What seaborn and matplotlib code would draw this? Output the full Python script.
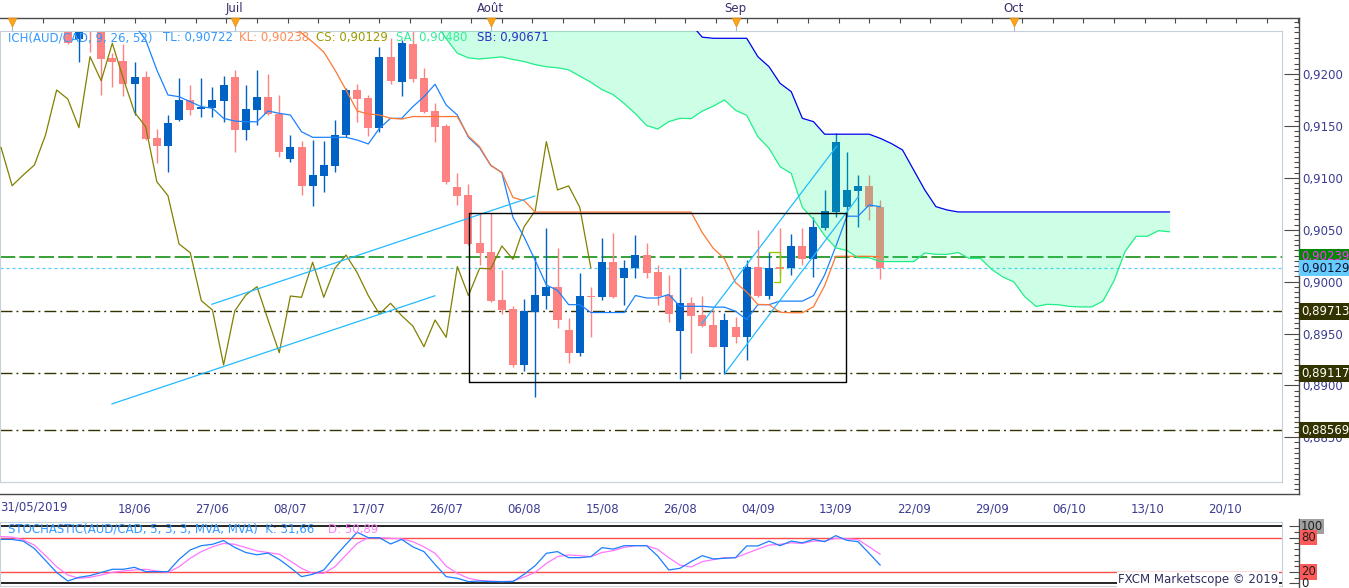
import numpy as np
import matplotlib
matplotlib.use("Agg")
import matplotlib.pyplot as plt
import seaborn as sns

# ------------------------------------------------------------
# Values (Marketscope 2019)
# bar 0 = 31/05/2019, one bar per trading day
# ------------------------------------------------------------

first_bar = 6   # bars 0-5 lie above the visible price range

opens = [
    0.92620, 0.92337, 0.92520, 0.92450, 0.92151, 0.92125, 0.91904, 0.91974, 0.91386, 0.91309,
    0.91557, 0.91750, 0.91660, 0.91675, 0.91740, 0.91974, 0.91460, 0.91653, 0.91781, 0.91612,
    0.91181, 0.91294, 0.90924, 0.91020, 0.91117, 0.91412, 0.91846, 0.91766, 0.91483, 0.92167,
    0.91920, 0.92289, 0.91965, 0.91644, 0.91502, 0.90908, 0.90834, 0.90369, 0.90288, 0.89823,
    0.89736, 0.89197, 0.89710, 0.89861, 0.89951, 0.89534, 0.89315, 0.89861, 0.89849, 0.90186,
    0.90038, 0.90128, 0.90256, 0.90090, 0.89871, 0.89527, 0.89791, 0.89678, 0.89582, 0.89373,
    0.89560, 0.89463, 0.90144, 0.89865, 0.90139, 0.90128, 0.90343, 0.90215, 0.90513, 0.90673,
    0.90716, 0.90876, 0.90922, 0.90716,
]
highs = [
    0.92680, 0.92500, 0.92550, 0.92480, 0.92199, 0.92286, 0.92118, 0.92029, 0.91470, 0.91605,
    0.91958, 0.91894, 0.91965, 0.91878, 0.91981, 0.92039, 0.91894, 0.92039, 0.91997, 0.91798,
    0.91412, 0.91355, 0.91364, 0.91355, 0.91557, 0.91868, 0.91901, 0.91800, 0.92263, 0.92344,
    0.92330, 0.92450, 0.92055, 0.91718, 0.91515, 0.91043, 0.90940, 0.90658, 0.90664, 0.90112,
    0.89768, 0.89832, 0.90240, 0.90513, 0.90321, 0.89646, 0.90080, 0.89951, 0.90417, 0.90465,
    0.90208, 0.90449, 0.90369, 0.90160, 0.90064, 0.90128, 0.89855, 0.89861, 0.89733, 0.89701,
    0.89662, 0.90208, 0.90497, 0.90288, 0.90513, 0.90459, 0.90513, 0.90619, 0.90883, 0.91429,
    0.91252, 0.91027, 0.91027, 0.90786,
]
lows = [
    0.92290, 0.92118, 0.92215, 0.91798, 0.91878, 0.91791, 0.91605, 0.91364, 0.91140, 0.91059,
    0.91550, 0.91605, 0.91589, 0.91589, 0.91540, 0.91251, 0.91364, 0.91509, 0.91605, 0.91203,
    0.91149, 0.90834, 0.90731, 0.90866, 0.91053, 0.91396, 0.91540, 0.91406, 0.91438, 0.91901,
    0.91785, 0.91920, 0.91621, 0.91342, 0.90937, 0.90738, 0.90355, 0.90160, 0.89807, 0.89688,
    0.89180, 0.89142, 0.88891, 0.89736, 0.89550, 0.89219, 0.89286, 0.89469, 0.89823, 0.89845,
    0.89775, 0.90031, 0.90031, 0.89775, 0.89614, 0.89059, 0.89309, 0.89566, 0.89370, 0.89110,
    0.89412, 0.89245, 0.89855, 0.89830, 0.90064, 0.90064, 0.90160, 0.90047, 0.90497, 0.90625,
    0.90625, 0.90529, 0.90593, 0.90022,
]
closes = [
    0.92299, 0.92460, 0.92460, 0.92142, 0.92113, 0.91901, 0.91974, 0.91374, 0.91309, 0.91528,
    0.91750, 0.91653, 0.91685, 0.91750, 0.91894, 0.91460, 0.91663, 0.91781, 0.91612, 0.91251,
    0.91294, 0.90924, 0.91027, 0.91123, 0.91412, 0.91846, 0.91759, 0.91483, 0.92167, 0.91935,
    0.92296, 0.91952, 0.91631, 0.91492, 0.90962, 0.90828, 0.90362, 0.90279, 0.89816, 0.89726,
    0.89197, 0.89717, 0.89871, 0.89951, 0.89630, 0.89315, 0.89861, 0.89849, 0.90186, 0.89849,
    0.90128, 0.90256, 0.90086, 0.89865, 0.89688, 0.89791, 0.89672, 0.89572, 0.89373, 0.89630,
    0.89463, 0.90144, 0.89865, 0.90128, 0.90123, 0.90343, 0.90215, 0.90529, 0.90683, 0.91348,
    0.90883, 0.90922, 0.90716, 0.90129,
]

tenkan_start = 12
tenkan = [
    0.92472, 0.92328, 0.92039, 0.91798, 0.91781, 0.91733, 0.91685, 0.91670, 0.91573, 0.91547,
    0.91540, 0.91540, 0.91644, 0.91621, 0.91605, 0.91444, 0.91390, 0.91390, 0.91390, 0.91390,
    0.91364, 0.91326, 0.91477, 0.91573, 0.91573, 0.91685, 0.91781, 0.91901, 0.91701, 0.91605,
    0.91390, 0.91290, 0.91120, 0.91050, 0.90618, 0.90430, 0.90203, 0.89967, 0.89916, 0.89778,
    0.89778, 0.89702, 0.89702, 0.89702, 0.89702, 0.89866, 0.89842, 0.89842, 0.89876, 0.89762,
    0.89762, 0.89762, 0.89754, 0.89754, 0.89714, 0.89634, 0.89778, 0.89778, 0.89812, 0.89812,
    0.89812, 0.89865, 0.90064, 0.90337, 0.90630, 0.90630, 0.90738, 0.90722,
]
kijun_start = 26
kijun = [
    0.92480, 0.92395, 0.92308, 0.92212, 0.92039, 0.91846, 0.91644, 0.91615, 0.91605, 0.91573,
    0.91566, 0.91590, 0.91590, 0.91590, 0.91590, 0.91590, 0.91400, 0.91300, 0.91120, 0.91050,
    0.90810, 0.90780, 0.90670, 0.90670, 0.90670, 0.90670, 0.90670, 0.90670, 0.90670, 0.90670,
    0.90670, 0.90670, 0.90670, 0.90670, 0.90670, 0.90670, 0.90670, 0.90473, 0.90320, 0.90220,
    0.89990, 0.89900, 0.89780, 0.89778, 0.89705, 0.89700, 0.89700, 0.89758, 0.89960, 0.90244,
    0.90244, 0.90244, 0.90244, 0.90238,
]
cloud_start = 39
senkou_a = [
    0.92500, 0.92340, 0.92200, 0.92155, 0.92145, 0.92155, 0.92165, 0.92140, 0.92120, 0.92090,
    0.92070, 0.92060, 0.92040, 0.91980, 0.91920, 0.91849, 0.91801, 0.91715, 0.91618, 0.91504,
    0.91470, 0.91541, 0.91573, 0.91570, 0.91642, 0.91690, 0.91750, 0.91650, 0.91602, 0.91395,
    0.91285, 0.91107, 0.91042, 0.90714, 0.90600, 0.90443, 0.90325, 0.90300, 0.90230, 0.90230,
    0.90193, 0.90193, 0.90193, 0.90193, 0.90275, 0.90263, 0.90263, 0.90280, 0.90223, 0.90223,
    0.90118, 0.90045, 0.89997, 0.89852, 0.89761, 0.89781, 0.89777, 0.89761, 0.89756, 0.89756,
    0.89812, 0.90007, 0.90291, 0.90437, 0.90437, 0.90491, 0.90480,
]
senkou_b = [
    0.92900, 0.92900, 0.92900, 0.92900, 0.92900, 0.92900, 0.92900, 0.92900, 0.92900, 0.92900,
    0.92900, 0.92900, 0.92900, 0.92900, 0.92900, 0.92900, 0.92900, 0.92900, 0.92900, 0.92900,
    0.92900, 0.92900, 0.92720, 0.92480, 0.92355, 0.92344, 0.92344, 0.92344, 0.92344, 0.92167,
    0.92071, 0.91910, 0.91830, 0.91573, 0.91541, 0.91420, 0.91420, 0.91420, 0.91420, 0.91420,
    0.91380, 0.91330, 0.91268, 0.91075, 0.90883, 0.90722, 0.90690, 0.90671, 0.90671, 0.90671,
    0.90671, 0.90671, 0.90671, 0.90671, 0.90671, 0.90671, 0.90671, 0.90671, 0.90671, 0.90671,
    0.90671, 0.90671, 0.90671, 0.90671, 0.90671, 0.90671, 0.90671,
]
chikou_shift = 26

stoch_k = [
    77, 77, 74, 61, 40, 19, 4, 10.5, 13.5, 19,
    24.6, 24.6, 28, 20.5, 20.5, 20.5, 42, 58.5, 66, 68.4,
    75, 63, 54, 50, 53, 42, 27.5, 11.7, 15.8, 23.4,
    46.8, 68.4, 89.5, 80, 80, 69, 77, 64, 55.6, 33,
    11.7, 8.8, 3, 4, 3, 3, 3, 15.8, 31, 52.6,
    55.6, 45, 45, 46.8, 62.6, 60, 66, 66, 66, 48,
    23.4, 26.3, 38, 48.5, 42.7, 43.9, 45, 65.5, 65.5, 74,
    66, 74, 71, 77, 73, 83.6, 75.4, 73, 52.6, 31.66,
]
stoch_d = [
    82, 81, 76, 67, 48.5, 29, 14.6, 8.8, 10.5, 14.6,
    19.3, 21.6, 23.4, 24.6, 21.6, 19.3, 29, 44, 55.6, 64,
    70, 68.4, 62.6, 56.7, 54, 51, 39, 26.3, 17.5, 17.5,
    29, 49.7, 70, 80, 80, 79, 78, 73, 64, 52.6,
    30, 17.5, 8.8, 5, 4, 3, 4, 11, 19.3, 35,
    46.8, 49.7, 48.5, 46.8, 54, 57.3, 63, 66, 66, 59.6,
    45, 32, 28.7, 38, 41.5, 45, 45, 52.6, 60, 67,
    68.4, 71, 70, 74, 74, 79, 78, 76.6, 64, 50.89,
]

date_ticks = [5, 12, 19, 26, 33, 40, 47, 54, 61, 68, 75, 82, 89, 96, 103, 110]
date_labels = ["", "18/06", "27/06", "08/07", "17/07", "26/07", "06/08", "15/08",
               "26/08", "04/09", "13/09", "22/09", "29/09", "06/10", "13/10", "20/10"]
first_date = "31/05/2019"
month_bars = [1, 21, 44, 66, 91]
month_labels = ["", "Juil", "Août", "Sep", "Oct"]
price_ticks = [0.8850, 0.8900, 0.8950, 0.9000, 0.9050, 0.9100, 0.9150, 0.9200]

levels = [0.90239, 0.90129, 0.89713, 0.89117, 0.88569]

# drawn objects (bar index, price)
channel_low_x = [9.95, 39.0]
channel_low_y = [0.88821, 0.89864]
channel_up_x = [18.93, 47.98]
channel_up_y = [0.89781, 0.90825]
rise_a_x = [62.95, 75.1]
rise_a_y = [0.89592, 0.91306]
rise_b_x = [65.05, 77.03]
rise_b_y = [0.89117, 0.90818]
box_x = [42.05, 75.95]
box_y = [0.89030, 0.90658]
bracket_x = [69.0, 70.0, 70.0, 69.45]
bracket_y = [0.90282, 0.90282, 0.89993, 0.89993]

# ------------------------------------------------------------
# Colours / layout helpers
# ------------------------------------------------------------

UP, DOWN = "#0062c4", "#ff8282"
FRAME, RULER = "#c6d0da", "#4a4a4a"
AXIS_TXT = "#3c3c92"

W, H = 1349, 588
BAR_PX, BAR0_PX = 11.13, 1.0
PX_PER_PRICE, PRICE_REF, PRICE_REF_PX = 10380.0, 0.92, 74.0
PX_PER_STOCH, STOCH0_PX = 0.57, 583.3


def box(x0, y0, x1, y1):
    return [x0 / W, 1 - y1 / H, (x1 - x0) / W, (y1 - y0) / H]


def bars_between(px0, px1):
    return ((px0 - BAR0_PX) / BAR_PX, (px1 - BAR0_PX) / BAR_PX)


def prices_between(py_top, py_bottom):
    return (PRICE_REF - (py_bottom - PRICE_REF_PX) / PX_PER_PRICE,
            PRICE_REF - (py_top - PRICE_REF_PX) / PX_PER_PRICE)


def stoch_between(py_top, py_bottom):
    return ((STOCH0_PX - py_bottom) / PX_PER_STOCH,
            (STOCH0_PX - py_top) / PX_PER_STOCH)


def line(axis, x, y, color, lw=0.9, z=4):
    sns.lineplot(x=x, y=y, ax=axis, color=color, linewidth=lw,
                 estimator=None, sort=False, legend=False, zorder=z)


def comma(v, digits):
    return f"{v:.{digits}f}".replace(".", ",")


sns.set_style("white")
plt.rcParams["font.family"] = ["DejaVu Sans"]
plt.rcParams["font.size"] = 8.5

fig = plt.figure(figsize=(W / 100, H / 100), dpi=100)
fig.patch.set_facecolor("white")

# ------------------------------------------------------------
# Main price panel
# ------------------------------------------------------------

ax = fig.add_axes(box(0, 31, 1282, 482))
ax.set_xlim(bars_between(0, 1282))
ax.set_ylim(prices_between(31, 482))
ax.set_xticks([])
ax.set_yticks([])
ax.set_xlabel("")
for s in ax.spines.values():
    s.set_color(FRAME)
    s.set_linewidth(0.8)

# horizontal levels
ax.axhline(levels[0], color="#008800", lw=1.1, dashes=(10, 2.7), zorder=1.5)
ax.axhline(levels[1], color="#55ccff", lw=0.9, dashes=(2.4, 2.4), zorder=1.5)
for lv in levels[2:]:
    ax.axhline(lv, color="#333300", lw=1.0, dashes=(8.6, 2.9, 1.4, 2.9), zorder=1.5)

# candles
bars = np.arange(first_bar, first_bar + len(closes))
o, h, l, c = map(np.array, (opens, highs, lows, closes))
col = np.where(c >= o, UP, DOWN)
ax.vlines(bars, l, h, colors=col, lw=1.0, zorder=2)
ax.bar(bars, np.maximum(np.abs(c - o), 0.00004), bottom=np.minimum(o, c),
       width=0.72, color=col, lw=0, zorder=2)

# kumo (drawn translucent above the candles)
cloud_x = np.arange(cloud_start, cloud_start + len(senkou_a))
ax.fill_between(cloud_x, senkou_a, senkou_b, color="#00ff80", alpha=0.2, lw=0, zorder=3)

# ichimoku lines
chikou = closes[chikou_shift - first_bar:]
line(ax, np.arange(len(chikou)), chikou, "#808000")
line(ax, np.arange(tenkan_start, tenkan_start + len(tenkan)), tenkan, "#1a82ff")
line(ax, np.arange(kijun_start, kijun_start + len(kijun)), kijun, "#ff7733")
line(ax, cloud_x, senkou_a, "#22ee88")
line(ax, cloud_x, senkou_b, "#0000ee")

# drawn objects
for xs, ys in ((channel_low_x, channel_low_y), (channel_up_x, channel_up_y),
               (rise_a_x, rise_a_y), (rise_b_x, rise_b_y)):
    ax.plot(xs, ys, color="#22bbff", lw=0.9, zorder=5)
ax.plot([box_x[0], box_x[1], box_x[1], box_x[0], box_x[0]],
        [box_y[0], box_y[0], box_y[1], box_y[1], box_y[0]],
        color="black", lw=1.0, zorder=5)
ax.plot(bracket_x, bracket_y, color="#99cc00", lw=1.0, zorder=5)

# legend line
ax_fx = lambda px: px / 1282
legend_y = 1 - (38 - 31) / 451
for txt, px, colr in (("ICH(AUD/CAD, 9, 26, 52)", 8, "#3399ff"),
                      ("TL: " + comma(tenkan[-1], 5), 163, "#3399ff"),
                      ("KL: " + comma(kijun[-1], 5), 239, "#ff8a55"),
                      ("CS: " + comma(closes[-1], 5), 316, "#9a9a00"),
                      ("SA: " + comma(senkou_a[-1], 5), 396, "#33ee99"),
                      ("SB: " + comma(senkou_b[-1], 5), 477, "#3030c8")):
    ax.text(ax_fx(px), legend_y, txt, transform=ax.transAxes, color=colr,
            ha="left", va="center", fontsize=8.5, zorder=7)

# ------------------------------------------------------------
# Rulers around the price panel
# ------------------------------------------------------------

ax_top = fig.add_axes(box(0, 18, 1299, 31))
ax_top.set_xlim(bars_between(0, 1299))
ax_top.set_ylim(0, 1)
ax_top.patch.set_alpha(0)
for side in ("left", "right", "bottom"):
    ax_top.spines[side].set_visible(False)
ax_top.spines["top"].set_color(RULER)
ax_top.spines["top"].set_linewidth(1.0)
ax_top.yaxis.set_visible(False)
ax_top.xaxis.tick_top()
ax_top.set_xticks(month_bars)
ax_top.set_xticklabels(month_labels)
ax_top.set_xticks(np.arange(month_bars[0], 117, 2.75), minor=True)
ax_top.tick_params(axis="x", which="major", direction="in", length=9.4, width=0.8,
                   color="#b0b8c0", pad=2.5, labelsize=8.5, labelcolor="#3a2e6e")
ax_top.tick_params(axis="x", which="minor", direction="in", length=3.6, width=0.8, color=RULER)
ax_top.scatter(month_bars, [0.68] * len(month_bars), marker="v", s=40, color="#ffa41c",
               edgecolors="#e08a00", linewidths=0.5, zorder=5, clip_on=False)

ax_bot = fig.add_axes(box(0, 482, 1299, 494))
ax_bot.set_xlim(bars_between(0, 1299))
ax_bot.set_ylim(0, 1)
ax_bot.patch.set_alpha(0)
for side in ("left", "right", "top"):
    ax_bot.spines[side].set_visible(False)
ax_bot.spines["bottom"].set_color(RULER)
ax_bot.spines["bottom"].set_linewidth(1.0)
ax_bot.yaxis.set_visible(False)
ax_bot.set_xticks(date_ticks)
ax_bot.set_xticklabels(date_labels)
ax_bot.set_xticks(np.arange(0, 117), minor=True)
ax_bot.tick_params(axis="x", which="major", direction="in", length=8.6, width=0.8,
                   color=RULER, pad=6, labelsize=8.5, labelcolor=AXIS_TXT)
ax_bot.tick_params(axis="x", which="minor", direction="in", length=3.0, width=0.8, color=RULER)
ax_bot.text(ax_bot.get_xlim()[0], (494 - 507) / 12, first_date,
            transform=ax_bot.get_xaxis_transform(), ha="left", va="center",
            fontsize=8.5, color=AXIS_TXT)

ax_r = fig.add_axes(box(1282, 18, 1299, 494))
ax_r.set_ylim(prices_between(18, 494))
ax_r.set_xlim(0, 1)
ax_r.patch.set_alpha(0)
for side in ("left", "top", "bottom"):
    ax_r.spines[side].set_visible(False)
ax_r.spines["right"].set_color(RULER)
ax_r.spines["right"].set_linewidth(1.0)
ax_r.xaxis.set_visible(False)
ax_r.yaxis.tick_right()
ax_r.set_yticks(price_ticks)
ax_r.set_yticklabels([comma(v, 4) for v in price_ticks])
ax_r.set_yticks(np.arange(0.8800, 0.9255, 0.0005), minor=True)
ax_r.tick_params(axis="y", which="major", direction="in", length=10.8, width=0.8,
                 color=RULER, pad=2, labelsize=8.5, labelcolor=AXIS_TXT)
ax_r.tick_params(axis="y", which="minor", direction="in", length=3.6, width=0.8, color=RULER)

level_faces = ["#008800", "#66ccff", "#333300", "#333300", "#333300"]
level_texts = ["#ff33ff", "#101030", "white", "white", "white"]
for lv, face, tc in zip(levels, level_faces, level_texts):
    ax_r.text(1.12, lv, comma(lv, 5), transform=ax_r.get_yaxis_transform(),
              ha="left", va="center", fontsize=8.5, color=tc, zorder=8, clip_on=False,
              bbox=dict(boxstyle="square,pad=0.15", fc=face, ec="none"))

# ------------------------------------------------------------
# Stochastic panel
# ------------------------------------------------------------

ax_s = fig.add_axes(box(0, 522, 1282, 586))
ax_s.set_xlim(bars_between(0, 1282))
ax_s.set_ylim(stoch_between(522, 586))
ax_s.set_xticks([])
ax_s.set_yticks([])
for s in ax_s.spines.values():
    s.set_color(FRAME)
    s.set_linewidth(0.8)
for v, colr, w in ((100, "black", 1.2), (0, "black", 1.2), (80, "#ff4d4d", 1.0), (20, "#ff4d4d", 1.0)):
    ax_s.axhline(v, color=colr, lw=w, zorder=1)
stoch_x = np.arange(len(stoch_k))
line(ax_s, stoch_x, stoch_d, "#ff77ff")
line(ax_s, stoch_x, stoch_k, "#1a7fff")
ax_s.set_xlabel("")
ax_s.set_ylabel("")
stoch_y = (586 - 529) / 64
ax_s.text(8 / 1282, stoch_y, "STOCHASTIC(AUD/CAD, 5, 3, 3, MVA, MVA)  K: " + comma(stoch_k[-1], 2),
          transform=ax_s.transAxes, color="#3399ff", ha="left", va="center", fontsize=8.5, zorder=6)
ax_s.text(328 / 1282, stoch_y, "D: " + comma(stoch_d[-1], 2),
          transform=ax_s.transAxes, color="#ff80ff", ha="left", va="center", fontsize=8.5, zorder=6)
ax_s.text(1278 / 1282, (586 - 580) / 64, "FXCM Marketscope © 2019", transform=ax_s.transAxes,
          color="#2e2e60", ha="right", va="center", fontsize=8.5, zorder=6,
          bbox=dict(boxstyle="square,pad=0.1", fc="white", ec="none"))

ax_sr = fig.add_axes(box(1282, 519, 1299, 588))
ax_sr.set_ylim(stoch_between(519, 588))
ax_sr.set_xlim(0, 1)
ax_sr.patch.set_alpha(0)
for side in ("left", "top", "bottom"):
    ax_sr.spines[side].set_visible(False)
ax_sr.spines["right"].set_color(RULER)
ax_sr.spines["right"].set_linewidth(1.0)
ax_sr.xaxis.set_visible(False)
ax_sr.yaxis.tick_right()
ax_sr.set_yticks([0, 20, 80, 100])
ax_sr.set_yticklabels([])
ax_sr.set_yticks(np.arange(0, 101, 10), minor=True)
ax_sr.tick_params(axis="y", which="major", direction="in", length=7, width=0.8, color=RULER)
ax_sr.tick_params(axis="y", which="minor", direction="in", length=3.6, width=0.8, color=RULER)
for v, face in ((100, "#a0a0a0"), (80, "#ff5a5a"), (20, "#ff5a5a"), (0, "none")):
    ax_sr.text(1.12, v, str(v), transform=ax_sr.get_yaxis_transform(), ha="left", va="center",
               fontsize=8.5, color="#202020", clip_on=False, zorder=8,
               bbox=dict(boxstyle="square,pad=0.1", fc=face, ec="none"))

fig.savefig("out.png", dpi=100, facecolor="white")
